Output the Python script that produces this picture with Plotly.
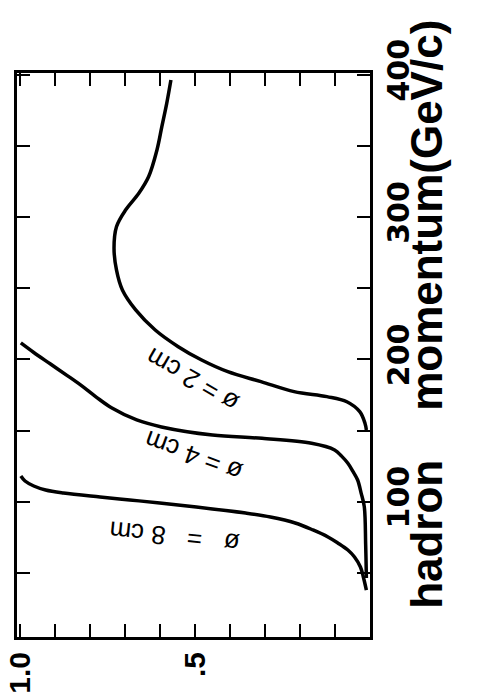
import plotly.graph_objects as go

# ---- data (efficiency vs hadron momentum) ----
eff_8cm = [0.009, 0.017, 0.026, 0.043, 0.062, 0.091, 0.119, 0.162, 0.213, 0.284, 0.355,
           0.496, 0.601, 0.687, 0.772, 0.877, 0.928, 0.962, 0.987, 0.999]
mom_8cm = [37.9, 46.4, 54.1, 61.1, 66.0, 71.0, 75.2, 80.1, 85.0, 89.2, 92.0,
           96.3, 99.1, 101.2, 103.3, 106.1, 108.2, 111.0, 114.5, 118.0]

eff_4cm = [0.009, 0.011, 0.015, 0.024, 0.034, 0.048, 0.062, 0.080, 0.100, 0.166, 0.308,
           0.450, 0.596, 0.667, 0.738, 0.783, 0.828, 0.866, 0.914, 0.962, 0.999]
mom_4cm = [46.4, 69.6, 96.5, 106.0, 115.2, 121.5, 127.0, 132.0, 136.3, 141.0, 144.5,
           146.8, 152.5, 157.4, 165.8, 173.5, 182.0, 188.6, 196.7, 204.8, 211.5]

eff_2cm = [0.009, 0.013, 0.028, 0.065, 0.122, 0.216, 0.311, 0.406, 0.481, 0.548, 0.614,
           0.670, 0.708, 0.725, 0.732, 0.725, 0.699, 0.661, 0.633, 0.609, 0.595, 0.581, 0.569]
mom_2cm = [150.4, 155.1, 163.2, 170.2, 173.8, 177.3, 184.3, 191.3, 199.5, 208.9, 220.6,
           234.7, 248.7, 262.8, 278.2, 293.2, 304.9, 316.7, 328.3, 347.1, 363.5, 379.9, 396.3]

curve_labels = ["ø\u00a0=\u00a02\u00a0cm", "ø\u00a0=\u00a04\u00a0cm", "ø\u00a0\u00a0\u00a0=\u00a0\u00a0\u00a08\u00a0cm"]
label_eff = [0.508, 0.505, 0.559]
label_mom = [185.5, 132.1, 75.2]
label_angle = [-150, -160, -174]

mom_tickvals = [50, 100, 150, 200, 250, 300, 350, 400]
mom_ticktext = ["", "100", "", "200", "", "300", "", "400"]
eff_tickvals = [0.1, 0.2, 0.3, 0.4, 0.5, 0.6, 0.7, 0.8, 0.9, 1.0]
eff_ticktext = ["", "", "", "", ".5", "", "", "", "", "1.0"]

axis_title = "hadron\u00a0\u00a0\u00a0\u00a0momentum(GeV/c)"

fig = go.Figure()
for xs, ys in [(eff_8cm, mom_8cm), (eff_4cm, mom_4cm), (eff_2cm, mom_2cm)]:
    fig.add_trace(go.Scatter(x=xs, y=ys, mode="lines",
                             line=dict(color="black", width=3.5, shape="spline", smoothing=1.0),
                             showlegend=False, hoverinfo="skip"))

for t, xv, yv, a in zip(curve_labels, label_eff, label_mom, label_angle):
    fig.add_annotation(x=xv, y=yv, xref="x", yref="y", text=t, showarrow=False,
                       textangle=a, font=dict(family="Liberation Sans", size=26, color="black"))

fig.add_annotation(x=1.16, y=0.572, xref="paper", yref="paper", text=axis_title,
                   showarrow=False, textangle=-90, xanchor="center", yanchor="middle",
                   font=dict(family="Liberation Sans", size=44, color="black", weight="bold"))

fig.update_xaxes(range=[1.010, -0.0014], tickvals=eff_tickvals, ticktext=eff_ticktext,
                 tickangle=-90, ticks="inside", ticklen=13, tickwidth=2, tickcolor="black",
                 showline=True, linecolor="black", linewidth=3, mirror="ticks",
                 showgrid=False, zeroline=False, automargin=False,
                 tickfont=dict(family="Liberation Sans", size=30, color="black", weight="bold"))
fig.update_yaxes(range=[4.9, 401.2], side="right", tickvals=mom_tickvals, ticktext=mom_ticktext,
                 tickangle=-90, ticks="inside", ticklen=13, tickwidth=2, tickcolor="black",
                 showline=True, linecolor="black", linewidth=3, mirror="ticks",
                 showgrid=False, zeroline=False, automargin=False,
                 tickfont=dict(family="DejaVu Sans", size=30, color="black", weight="bold"))

fig.update_layout(width=477, height=697, margin=dict(l=17, r=107, t=73, b=60),
                  paper_bgcolor="white", plot_bgcolor="white")

fig.write_html("out.html")
